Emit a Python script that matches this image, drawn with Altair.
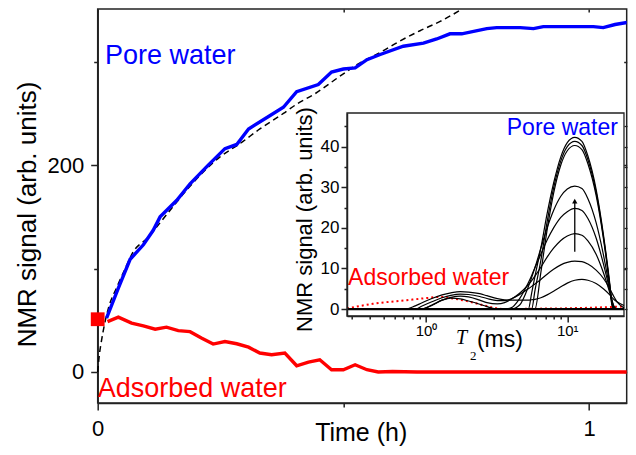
import altair as alt
import pandas as pd

FONT = "Liberation Sans"

# ---------------- main panel data ----------------
pore_t = [0.018, 0.042, 0.066, 0.093, 0.113, 0.127, 0.161, 0.188, 0.225, 0.259, 0.283, 0.307,
          0.351, 0.378, 0.405, 0.449, 0.476, 0.500, 0.524, 0.548, 0.575, 0.622, 0.663, 0.690,
          0.717, 0.741, 0.792, 0.812, 0.860, 0.887, 0.907, 0.961, 1.009, 1.029, 1.053, 1.077, 1.092]
pore_v = [52, 81, 109, 123, 137, 150, 166, 182, 200, 216, 220, 235,
          248, 256, 271, 278, 290, 293, 294, 302, 307, 315, 318, 322,
          327, 327, 332, 333, 333, 332, 334, 334, 334, 333, 336, 338, 337]

ads_t = [0.020, 0.042, 0.069, 0.093, 0.117, 0.140, 0.164, 0.188, 0.212, 0.235, 0.259, 0.283,
         0.307, 0.330, 0.354, 0.381, 0.405, 0.429, 0.452, 0.476, 0.500, 0.524, 0.548, 0.571,
         0.600, 0.650, 0.750, 0.900, 1.092]
ads_v = [48.7, 53, 47.2, 44.6, 41.4, 43.3, 40, 39, 32.7, 27, 29.5, 27.3,
         24, 18.3, 16.7, 18.3, 6, 9.6, 11.8, 2.2, 2.2, 7, 2.2, 0,
         0.5, 0, 0, 0, 0]

fit_t = [0.0, 0.003, 0.008, 0.013, 0.022, 0.039, 0.056, 0.072, 0.100, 0.140, 0.181, 0.249,
         0.290, 0.330, 0.378, 0.405, 0.442, 0.493, 0.534, 0.575, 0.615, 0.656, 0.697, 0.742]
fit_v = [0, 15, 31, 44, 62, 82, 100, 116, 129, 152, 176, 208,
         221, 235, 250, 259, 269, 286, 299, 309, 320, 330, 339, 351]

start_t = [0.0]
start_v = [51.0]

main_x_ticks = [0, 0.5, 1]
main_y_ticks = [0, 100, 200, 300]

# ---------------- inset data ----------------
t2_grid = [0.276, 0.5, 0.71, 0.84, 0.93, 1.1, 1.3, 1.5, 1.75, 2.0, 2.4, 2.7, 3.2, 3.6, 4.0, 4.6,
           5.3, 5.6, 5.9, 6.5, 7.2, 8.0, 9.0, 10.0, 11.3, 12.7, 14.0, 16.0, 18.0, 20.0, 20.7,
           21.5, 22.5, 25.2]
inset_curves = {
    "c1": [0, 0, 0, 0.8, 1.5, 2.6, 3.5, 4.0, 4.3, 4.2, 3.8, 3.3, 2.6, 2.3, 2.2, 2.2,
           2.2, 2.3, 2.4, 2.8, 3.5, 4.4, 5.5, 6.4, 7.1, 7.3, 7.1, 6.3, 5.0, 3.5, 2.9,
           2.3, 1.8, 0.9],
    "c2": [0, 0, 0, 0, 0.7, 1.8, 2.8, 3.4, 3.7, 3.6, 3.1, 2.6, 2.1, 2.1, 2.5, 3.6,
           5.0, 5.6, 6.2, 7.3, 8.6, 9.8, 10.9, 11.5, 11.8, 11.7, 11.1, 9.6, 7.6, 5.0, 4.0,
           2.9, 1.8, 0.3],
    "c3": [0, 0, 0, 0, 0, 1.0, 2.2, 2.9, 3.2, 3.0, 2.2, 1.6, 1.3, 1.6, 2.4, 3.9,
           6.0, 7.0, 8.1, 10.3, 12.8, 15.0, 16.9, 18.0, 18.6, 18.2, 16.8, 13.5, 9.0, 4.0, 2.2,
           0.6, 0, 0],
    "c4": [0, 0, 0, 0, 0, 0.9, 2.2, 2.7, 2.5, 2.0, 1.2, 0.6, 0, 0, 0.3, 2.6,
           6.5, 8.3, 10.2, 13.5, 17.0, 20.0, 22.6, 24.0, 24.8, 24.3, 22.3, 17.5, 11.2, 4.5, 2.0,
           0.3, 0, 0],
    "c5": [0, 0, 0, 0, 0, 0, 0, 0, 0, 0, 0, 0, 0, 0, 0, 1.0,
           5.5, 7.8, 10.2, 15.0, 20.0, 24.3, 27.8, 29.6, 30.3, 29.7, 27.2, 21.3, 13.5, 5.0, 2.2,
           0.2, 0, 0],
    "c6": [0, 0, 0, 0, 0, 0, 0, 0, 0, 0, 0, 0, 0, 0, 0, 0,
           0, 0, 0, 9.0, 19.5, 28.5, 35.5, 39.0, 40.3, 39.3, 35.8, 28.0, 17.5, 5.5, 1.0,
           0, 0, 0],
    "c7": [0, 0, 0, 0, 0, 0, 0, 0, 0, 0, 0, 0, 0, 0, 0, 0,
           0, 0, 4.5, 12.0, 21.5, 29.8, 36.5, 40.0, 41.3, 40.3, 36.8, 28.8, 18.0, 5.8, 1.3,
           0, 0, 0],
    "c8": [0, 0, 0, 0, 0, 0, 0, 0, 0, 0, 0, 0, 0, 0, 0, 0,
           0, 4.0, 8.0, 15.0, 23.5, 31.0, 37.5, 41.0, 42.3, 41.3, 37.7, 29.5, 18.5, 6.2, 1.6,
           0, 0, 0],
}
dotted_t2 = [0.276, 0.42, 0.73, 1.0, 1.26, 1.55, 2.05, 2.69, 3.16, 3.7, 6.0, 10.0, 15.0, 20.0, 25.2]
dotted_v = [0.15, 1.3, 2.2, 2.7, 3.0, 2.6, 1.8, 0.75, 0.2, 0, 0.1, 0.2, 0.35, 0.5, 0.65]

arrow_t2 = [11.3]
arrow_from = [14.1]
arrow_to = [26.6]

inset_x_ticks = [0.3, 0.4, 0.5, 0.6, 0.7, 0.8, 0.9, 1, 2, 3, 4, 5, 6, 7, 8, 9, 10, 20]
inset_y_ticks = [0, 5, 10, 15, 20, 25, 30, 35, 40, 45]

IN_X_DOMAIN = [0.276, 25.2]
IN_Y_DOMAIN = [-1.7, 48.3]

# ---------------- scales & axes ----------------
PLOT_W = 529
IN_RIGHT = 526.3
mxs = alt.Scale(domain=[0, 1.0767], nice=False, zero=False)
mys = alt.Scale(domain=[-30, 351], nice=False, zero=False)
ixs = alt.Scale(type="log", domain=IN_X_DOMAIN, range=[249.3, IN_RIGHT], nice=False)
iys = alt.Scale(domain=IN_Y_DOMAIN, range=[307, 104], nice=False, zero=False)

AX = dict(grid=False, domainColor="#222", domainWidth=1.5, tickColor="#222", tickWidth=1.5,
          labelFont=FONT, labelColor="black", titleFont=FONT, titleColor="black",
          titleFontWeight="normal", labelFlush=False, labelOverlap=False)

main_x_axis = alt.Axis(
    values=main_x_ticks,
    labelExpr="datum.value == 0.5 ? '' : '' + datum.value",
    tickSize={"condition": {"test": "datum.value == 0.5", "value": 4}, "value": 7},
    labelFontSize=22, labelPadding=9,
    title="Time (h)", titleFontSize=25, titleX=263, titleY=38,
    titleBaseline="alphabetic", titleAlign="center", **AX)
main_y_axis = alt.Axis(
    values=main_y_ticks,
    labelExpr="(datum.value == 100 || datum.value == 300) ? '' : '' + datum.value",
    tickSize={"condition": {"test": "datum.value == 100 || datum.value == 300", "value": 4}, "value": 7},
    labelFontSize=22, labelPadding=7,
    title="NMR signal (arb. units)", titleFontSize=26, titleX=-62, titleY=205,
    titleBaseline="alphabetic", titleAlign="center", titleAngle=270, **AX)

# mirrored inward ticks on the top and right edges of the main frame
top_axis = alt.Axis(orient="top", offset=-3, values=main_x_ticks, tickSize=3, labels=False,
                    domain=False, ticks=True, grid=False, tickColor="#222", tickWidth=1.5,
                    title="")
right_axis = alt.Axis(orient="right", offset=-3, values=main_y_ticks, tickSize=3, labels=False,
                      domain=False, ticks=True, grid=False, tickColor="#222", tickWidth=1.5,
                      title="")

inset_x_axis = alt.Axis(
    orient="bottom", offset=-87, values=inset_x_ticks,
    labelExpr="datum.value == 1 ? '10⁰' : (datum.value == 10 ? '10¹' : '')",
    tickSize={"condition": {"test": "datum.value == 1 || datum.value == 10", "value": 6}, "value": 3},
    labelFontSize=15, labelPadding=2, title="", zindex=1,
    **AX)
inset_y_axis = alt.Axis(
    orient="left", offset=-249.3, values=inset_y_ticks,
    labelExpr="datum.value % 10 == 0 ? '' + datum.value : ''",
    tickSize={"condition": {"test": "datum.value % 10 != 0", "value": 3}, "value": 6},
    labelFontSize=17, labelPadding=2,
    title="NMR signal (arb. units)", titleFontSize=22, titleX=-35.7, titleY=210,
    titleBaseline="alphabetic", titleAlign="center", titleAngle=270, zindex=1, **AX)
inset_right_axis = alt.Axis(
    orient="right", offset=-(PLOT_W - IN_RIGHT), values=inset_y_ticks, tickSize=3,
    labels=False, domain=False, ticks=True, grid=False, tickColor="#222", tickWidth=1.3,
    title="", zindex=1)

# ---------------- main layers ----------------
pore_df = pd.DataFrame({"x": pore_t, "y": pore_v})
ads_df = pd.DataFrame({"x": ads_t, "y": ads_v})
fit_df = pd.DataFrame({"x": fit_t, "y": fit_v})
start_df = pd.DataFrame({"x": start_t, "y": start_v})

pore = alt.Chart(pore_df).mark_line(color="#0000ff", strokeWidth=3.4, clip=True).encode(
    x=alt.X("x:Q", scale=mxs, axis=main_x_axis),
    y=alt.Y("y:Q", scale=mys, axis=main_y_axis),
    order="x:Q")
ads = alt.Chart(ads_df).mark_line(color="#ff0000", strokeWidth=3.4, clip=True).encode(
    x=alt.X("x:Q", scale=mxs), y=alt.Y("y:Q", scale=mys), order="x:Q")
fit = alt.Chart(fit_df).mark_line(color="black", strokeWidth=1.5, strokeDash=[6, 4],
                                  interpolate="monotone").encode(
    x=alt.X("x:Q", scale=mxs), y=alt.Y("y:Q", scale=mys), order="x:Q")
start = alt.Chart(start_df).mark_square(color="#ff0000", size=190, opacity=1, filled=True).encode(
    x=alt.X("x:Q", scale=mxs), y=alt.Y("y:Q", scale=mys))

main_labels_df = pd.DataFrame({"x": [0.015, 0.0], "y": [298.0, -24.5],
                               "text": ["Pore water", "Adsorbed water"],
                               "c": ["#0000ff", "#ff0000"]})
main_labels = alt.Chart(main_labels_df).mark_text(
    align="left", baseline="alphabetic", font=FONT, fontSize=27).encode(
    x=alt.X("x:Q", scale=mxs), y=alt.Y("y:Q", scale=mys), text="text:N",
    color=alt.Color("c:N", scale=None))

main = alt.layer(fit, pore, ads, start, main_labels)

mirror_main = alt.Chart(start_df).mark_point(opacity=0).encode(
    x=alt.X("x:Q", scale=mxs, axis=top_axis),
    y=alt.Y("y:Q", scale=mys, axis=right_axis))

# ---------------- inset layers ----------------
rows = []
for name, vals in inset_curves.items():
    for t, v in zip(t2_grid, vals):
        rows.append({"x": t, "y": v, "curve": name})
curves_df = pd.DataFrame(rows)
dotted_df = pd.DataFrame({"x": dotted_t2, "y": dotted_v})

frame_df = pd.DataFrame({"x": [IN_X_DOMAIN[0]], "x2": [IN_X_DOMAIN[1]],
                         "y": [IN_Y_DOMAIN[0]], "y2": [IN_Y_DOMAIN[1]]})
frame = alt.Chart(frame_df).mark_rect(fill="white", stroke="#222", strokeWidth=1.3).encode(
    x=alt.X("x:Q", scale=ixs, axis=inset_x_axis), x2="x2:Q",
    y=alt.Y("y:Q", scale=iys, axis=inset_y_axis), y2="y2:Q")

baseline_df = pd.DataFrame({"x": [IN_X_DOMAIN[0]], "x2": [IN_X_DOMAIN[1]], "y": [0.0]})
baseline = alt.Chart(baseline_df).mark_rule(color="black", strokeWidth=2.2).encode(
    x=alt.X("x:Q", scale=ixs), x2="x2:Q", y=alt.Y("y:Q", scale=iys))

curves = alt.Chart(curves_df).mark_line(color="black", strokeWidth=1.2,
                                        interpolate="monotone").encode(
    x=alt.X("x:Q", scale=ixs), y=alt.Y("y:Q", scale=iys),
    detail="curve:N", order="x:Q")

dotted = alt.Chart(dotted_df).mark_line(color="#ff0000", strokeWidth=2, strokeDash=[2, 3],
                                        interpolate="monotone").encode(
    x=alt.X("x:Q", scale=ixs), y=alt.Y("y:Q", scale=iys), order="x:Q")

arrow_df = pd.DataFrame({"x": arrow_t2, "y": arrow_from, "y2": arrow_to})
arrow_line = alt.Chart(arrow_df).mark_rule(color="black", strokeWidth=1.3).encode(
    x=alt.X("x:Q", scale=ixs), y=alt.Y("y:Q", scale=iys), y2="y2:Q")
arrow_head = alt.Chart(arrow_df).mark_point(shape="triangle-up", filled=True, color="black",
                                            size=28, opacity=1).encode(
    x=alt.X("x:Q", scale=ixs), y=alt.Y("y2:Q", scale=iys))

inset_text_df = pd.DataFrame({"x": [3.73, 0.281], "y": [42.9, 5.9],
                              "text": ["Pore water", "Adsorbed water"],
                              "c": ["#0000ff", "#ff0000"]})
inset_texts = alt.Chart(inset_text_df).mark_text(
    align="left", baseline="alphabetic", font=FONT, fontSize=23).encode(
    x=alt.X("x:Q", scale=ixs), y=alt.Y("y:Q", scale=iys), text="text:N",
    color=alt.Color("c:N", scale=None))

t_df = pd.DataFrame({"x": [1.63], "y": [-8.7], "text": ["T"]})
t_title = alt.Chart(t_df).mark_text(align="left", baseline="alphabetic", font="Liberation Serif",
                                    fontStyle="italic", fontSize=20, color="black").encode(
    x=alt.X("x:Q", scale=ixs), y=alt.Y("y:Q", scale=iys), text="text:N")
sub_df = pd.DataFrame({"x": [2.05], "y": [-12.6], "text": ["2"]})
sub_title = alt.Chart(sub_df).mark_text(align="left", baseline="alphabetic", font="Liberation Serif",
                                        fontSize=13, color="black").encode(
    x=alt.X("x:Q", scale=ixs), y=alt.Y("y:Q", scale=iys), text="text:N")
ms_df = pd.DataFrame({"x": [2.295], "y": [-9.4], "text": ["(ms)"]})
ms_title = alt.Chart(ms_df).mark_text(align="left", baseline="alphabetic", font=FONT,
                                      fontSize=23, color="black").encode(
    x=alt.X("x:Q", scale=ixs), y=alt.Y("y:Q", scale=iys), text="text:N")

inset = alt.layer(frame, dotted, curves, baseline, arrow_line, arrow_head, inset_texts,
                  t_title, sub_title, ms_title)

mirror_inset = alt.Chart(frame_df).mark_point(opacity=0).encode(
    x=alt.X("x:Q", scale=ixs, axis=None),
    y=alt.Y("y:Q", scale=iys, axis=inset_right_axis))

chart = alt.layer(main, mirror_main, inset, mirror_inset).resolve_scale(
    x="independent", y="independent").properties(
    width=PLOT_W, height=394,
    autosize=alt.AutoSizeParams(type="none"),
    padding={"left": 89.7, "top": 1, "right": 1, "bottom": 44},
    background="white",
).configure_view(stroke="#222", strokeWidth=1.5)

chart.save("out.html", embed_options={"renderer": "svg", "actions": False})
